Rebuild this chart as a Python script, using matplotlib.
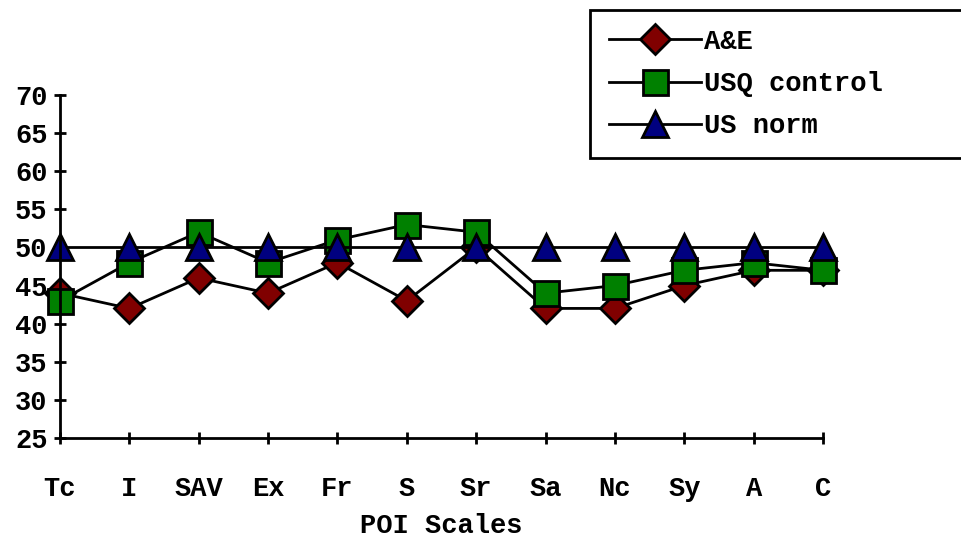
# POI scales: A&E vs USQ control vs US norm

import matplotlib.pyplot as plt

# Data
scales = ['Tc', 'I', 'SAV', 'Ex', 'Fr', 'S', 'Sr', 'Sa', 'Nc', 'Sy', 'A', 'C']
ae = [44, 42, 46, 44, 48, 43, 50, 42, 42, 45, 47, 47]
usq = [43, 48, 52, 48, 51, 53, 52, 44, 45, 47, 48, 47]
us_norm = [50, 50, 50, 50, 50, 50, 50, 50, 50, 50, 50, 50]

font = {'family': 'Liberation Mono', 'weight': 'bold', 'size': 19.5}

fig = plt.figure(figsize=(9.62, 5.45), dpi=100)
ax = fig.add_axes([60/962, 1 - 438/545, (823 - 60)/962, (438 - 95)/545])

x = list(range(len(scales)))
ax.plot(x, ae, label='A&E', color='black', lw=2, marker='D', ms=15,
        mfc='#800000', mec='black', mew=2)
ax.plot(x, usq, label='USQ control', color='black', lw=2, marker='s', ms=18,
        mfc='#008000', mec='black', mew=2)
ax.plot(x, us_norm, label='US norm', color='black', lw=2, marker='^', ms=19,
        mfc='#000080', mec='black', mew=2)

ax.set_xlim(0, len(scales) - 1)
ax.set_ylim(25, 70)
ax.set_yticks(range(25, 71, 5))
ax.set_xticks(x)
ax.set_xticklabels(scales, fontdict=font)
ax.set_yticklabels([str(v) for v in range(25, 71, 5)], fontdict=font)

for s in ['top', 'right']:
    ax.spines[s].set_visible(False)
for s in ['left', 'bottom']:
    ax.spines[s].set_linewidth(2)
ax.tick_params(direction='inout', length=8, width=2)
ax.tick_params(axis='x', pad=23)
ax.tick_params(axis='y', pad=5)
for line in ax.lines:
    line.set_clip_on(False)

ax.set_xlabel('POI Scales', fontdict=font, labelpad=8)

leg = fig.legend(loc='upper left', bbox_to_anchor=(590/962, 1 - 10/545, 400/962, 0.0),
                 mode='expand', borderaxespad=0,
                 prop={'family': 'Liberation Mono', 'weight': 'bold', 'size': 19.5},
                 handlelength=3.4, handletextpad=0.1, labelspacing=0.6,
                 borderpad=0.7, fancybox=False, edgecolor='black', framealpha=1)
leg.get_frame().set_linewidth(2)

plt.savefig('out.png', dpi=100)
